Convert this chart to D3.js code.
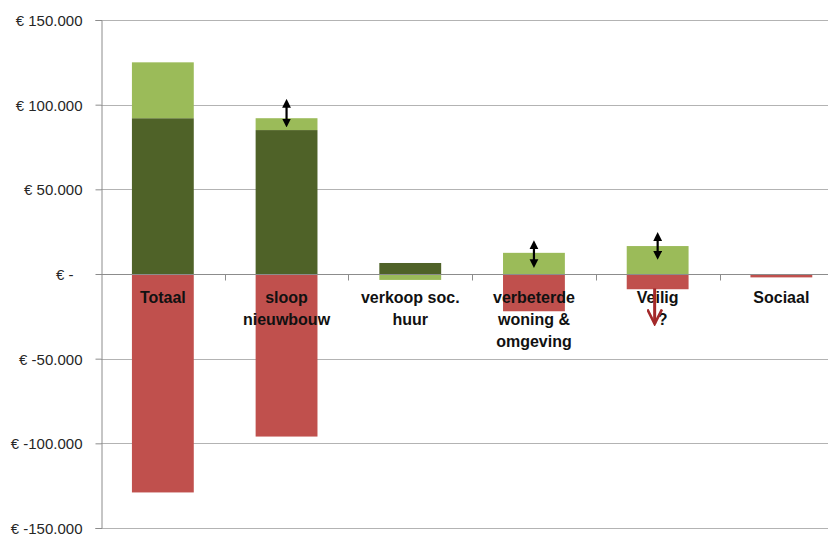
<!DOCTYPE html>
<html><head><meta charset="utf-8">
<script src="https://cdn.jsdelivr.net/npm/d3@7"></script>
<style>
body{margin:0;background:#fff;}
svg{display:block;}
</style></head>
<body>
<svg id="chart" width="828" height="536"></svg>
<script>
// ---- data ----
const categories = ["Totaal", "sloop nieuwbouw", "verkoop soc. huur", "verbeterde woning & omgeving", "Veilig ?", "Sociaal"];
const categoryLines = [["Totaal"], ["sloop", "nieuwbouw"], ["verkoop soc.", "huur"], ["verbeterde", "woning &", "omgeving"], ["Veilig", "?"], ["Sociaal"]];
const seriesNames = ["donkergroen", "lichtgroen", "rood"];
const darkGreen = [92000, 85000, 6500, 0, 0, 0];
const lightGreen = [33000, 7000, -3500, 12500, 16500, 0];
const red = [-129000, -96000, 0, -22000, -9000, -2000];
const yTicks = [150000, 100000, 50000, 0, -50000, -100000, -150000];
const yTickLabels = ["€ 150.000", "€ 100.000", "€ 50.000", "€ -", "€ -50.000", "€ -100.000", "€ -150.000"];
// annotation arrows (data units)
const doubleArrowCats = ["sloop nieuwbouw", "verbeterde woning & omgeving", "Veilig ?"];
const doubleArrowTop = [103500, 20000, 24800];
const doubleArrowBottom = [86500, 3500, 8300];
const downArrowCats = ["Veilig ?"];
const downArrowFrom = [-8500];
const downArrowTo = [-29500];

const colors = {donkergroen: "#4F6228", lichtgroen: "#9BBB59", rood: "#C0504D"};

// ---- build ----
const table = categories.map((c, i) => ({cat: c, donkergroen: darkGreen[i], lichtgroen: lightGreen[i], rood: red[i]}));
const stacked = d3.stack().keys(seriesNames).offset(d3.stackOffsetDiverging)(table);

const svg = d3.select("#chart");
const plotLeft = 101, plotTop = 20, plotBottom = 528;
const x = d3.scaleBand().domain(categories).range([plotLeft, plotLeft + 6 * 123.7]).paddingInner(0.5).paddingOuter(0.25);
const y = d3.scaleLinear().domain([-150000, 150000]).range([plotBottom, plotTop]);

// gridlines
svg.append("g").selectAll("line").data(yTicks).join("line")
  .attr("x1", plotLeft).attr("x2", 828)
  .attr("y1", d => Math.round(y(d)) + 0.5).attr("y2", d => Math.round(y(d)) + 0.5)
  .attr("stroke", "#b3b3b3").attr("stroke-width", 1);

// y axis
const yAxis = d3.axisLeft(y).tickValues(yTicks).tickSize(6).tickPadding(13)
  .tickFormat((d, i) => yTickLabels[i]);
const gy = svg.append("g").attr("transform", `translate(${plotLeft + 0.5},0)`).call(yAxis);
gy.select(".domain").attr("stroke", "#8c8c8c");
gy.selectAll(".tick line").attr("stroke", "#8c8c8c");
gy.selectAll(".tick text")
  .attr("font-family", "'Liberation Sans', Arial, sans-serif").attr("font-size", 15).attr("fill", "#262626")
  .attr("dy", "0.36em")
  .attr("dx", d => d === 0 ? -9 : 0);

// bars
svg.append("g").selectAll("g").data(stacked).join("g")
  .attr("fill", d => colors[d.key])
  .selectAll("rect").data(d => d).join("rect")
  .attr("x", d => x(d.data.cat))
  .attr("width", x.bandwidth())
  .attr("y", d => y(Math.max(d[0], d[1])))
  .attr("height", d => Math.abs(y(d[0]) - y(d[1])));

// zero axis line with category ticks
const zeroY = Math.round(y(0)) + 0.5;
svg.append("line").attr("x1", plotLeft).attr("x2", 828).attr("y1", zeroY).attr("y2", zeroY)
  .attr("stroke", "#8c8c8c");
const step = x.step();
const boundaries = categories.map((c, i) => x(c) - x.paddingInner() * step / 2 + step);
svg.append("g").selectAll("line").data(boundaries.filter(b => b < 828)).join("line")
  .attr("x1", d => Math.round(d) + 0.5).attr("x2", d => Math.round(d) + 0.5)
  .attr("y1", zeroY).attr("y2", zeroY + 6).attr("stroke", "#8c8c8c");

// category labels
const lab = svg.append("g").attr("font-family", "'Liberation Sans', Arial, sans-serif")
  .attr("font-size", 16).attr("font-weight", "bold").attr("fill", "#111").attr("text-anchor", "middle");
categories.forEach((c, i) => {
  const t = lab.append("text").attr("x", x(c) + x.bandwidth() / 2).attr("y", 303);
  categoryLines[i].forEach((line, j) => {
    t.append("tspan").attr("x", x(c) + x.bandwidth() / 2 + (line === "?" ? 5 : 0)).attr("y", 303 + j * 22).text(line);
  });
});

// arrows
const defs = svg.append("defs");
defs.append("marker").attr("id", "ah").attr("viewBox", "0 0 10 10").attr("refX", 5).attr("refY", 5)
  .attr("markerWidth", 4).attr("markerHeight", 4.2).attr("orient", "auto-start-reverse")
  .attr("markerUnits", "strokeWidth")
  .append("path").attr("d", "M0,0 L10,5 L0,10 Z").attr("fill", "#000");
defs.append("marker").attr("id", "ahr").attr("viewBox", "0 0 10 10").attr("refX", 9).attr("refY", 5)
  .attr("markerWidth", 5.4).attr("markerHeight", 5.4).attr("orient", "auto")
  .attr("markerUnits", "strokeWidth")
  .append("path").attr("d", "M0,0.5 L9,5 L0,9.5").attr("fill", "none").attr("stroke", "#A3292A").attr("stroke-width", 1.6);

svg.append("g").selectAll("line").data(doubleArrowCats).join("line")
  .attr("x1", d => x(d) + x.bandwidth() / 2).attr("x2", d => x(d) + x.bandwidth() / 2)
  .attr("y1", (d, i) => y(doubleArrowTop[i]) + 4.5).attr("y2", (d, i) => y(doubleArrowBottom[i]) - 4.5)
  .attr("stroke", "#000").attr("stroke-width", 2.2)
  .attr("marker-start", "url(#ah)").attr("marker-end", "url(#ah)");

svg.append("g").selectAll("line").data(downArrowCats).join("line")
  .attr("x1", d => x(d) + x.bandwidth() / 2 - 3).attr("x2", d => x(d) + x.bandwidth() / 2 - 3)
  .attr("y1", (d, i) => y(downArrowFrom[i])).attr("y2", (d, i) => y(downArrowTo[i]))
  .attr("stroke", "#A3292A").attr("stroke-width", 3)
  .attr("marker-end", "url(#ahr)");
</script>
</body></html>
